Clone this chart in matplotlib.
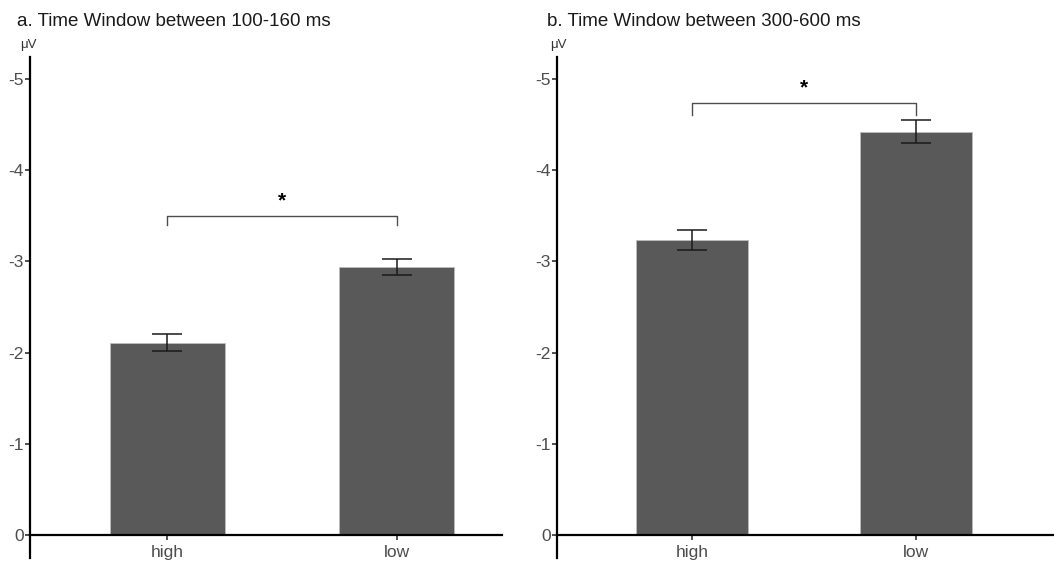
import matplotlib
matplotlib.use('Agg')
import matplotlib.pyplot as plt

plt.rcParams['font.family'] = ['Liberation Sans', 'DejaVu Sans']

# data (values in microvolts)
conditions = ['high', 'low']
means_a = [-2.11, -2.94]
se_a = [0.09, 0.09]
means_b = [-3.23, -4.42]
se_b = [0.11, 0.125]
titles = ['a. Time Window between 100-160 ms', 'b. Time Window between 300-600 ms']
yticks = [0, -1, -2, -3, -4, -5]

# bracket heights and star positions
bracket_a = (-3.50, -3.40)
bracket_b = (-4.74, -4.60)
star_a = -3.66
star_b = -4.90

fig = plt.figure(figsize=(10.54, 5.68), dpi=100)

panels = [
    dict(rect=[30 / 1054, 10 / 568, 472 / 1054, 501 / 568], xlim=(0.404, 2.457),
         means=means_a, se=se_a, title=titles[0], bracket=bracket_a, star=star_a, tx=17),
    dict(rect=[557 / 1054, 10 / 568, 497 / 1054, 501 / 568], xlim=(0.397, 2.616),
         means=means_b, se=se_b, title=titles[1], bracket=bracket_b, star=star_b, tx=547),
]

for p in panels:
    ax = fig.add_axes(p['rect'])
    x = [1, 2]
    ax.bar(x, p['means'], width=0.5, color='#595959', edgecolor='#bdbdbd', linewidth=0.6, zorder=2)
    ax.errorbar(x, p['means'], yerr=p['se'], fmt='none', ecolor='#1a1a1a',
                elinewidth=1.1, capsize=11, capthick=1.1, zorder=3)

    ax.set_xlim(*p['xlim'])
    ax.set_ylim(0.25, -5.24)
    ax.set_yticks(yticks)
    ax.set_yticklabels([str(v) for v in yticks])
    ax.set_xticks(x)
    ax.set_xticklabels(conditions)

    for s in ['top', 'right']:
        ax.spines[s].set_visible(False)
    ax.spines['bottom'].set_position(('data', 0))
    ax.spines['bottom'].set_linewidth(1.6)
    ax.spines['bottom'].set_zorder(4)
    ax.spines['left'].set_linewidth(1.6)
    ax.tick_params(axis='both', colors='#333333', labelcolor='#4d4d4d',
                   labelsize=12.5, length=3.5, width=1.2)
    ax.tick_params(axis='y', pad=1)
    ax.tick_params(axis='x', pad=3.5)

    # significance bracket
    top, end = p['bracket']
    ax.plot([1, 1, 2, 2], [end, top, top, end], color='#4d4d4d', lw=1.0, zorder=3)
    ax.text(1.5, p['star'], '*', ha='center', va='center', fontsize=15,
            fontweight='bold', color='black')

    fig.text(p['tx'] / 1054, 1 - 22 / 568, p['title'], fontsize=13.5,
             color='#1a1a1a', ha='left', va='center')
    fig.text((p['tx'] + 3) / 1054, 1 - 45 / 568, 'μV', fontsize=9.5,
             color='#333333', ha='left', va='center')

fig.savefig('out.png', dpi=100)
